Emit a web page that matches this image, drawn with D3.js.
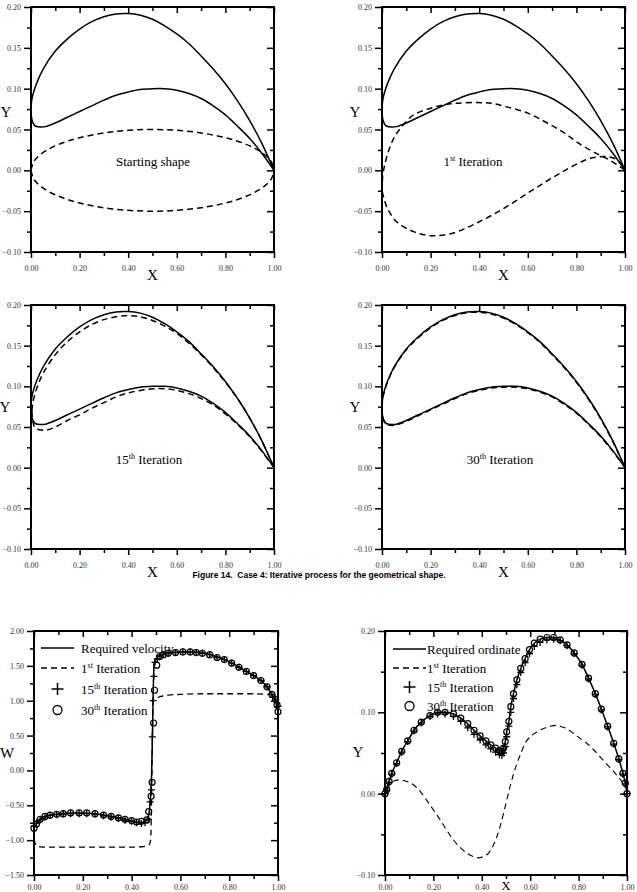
<!doctype html>
<html>
<head>
<meta charset="utf-8">
<script src="https://d3js.org/d3.v7.min.js"></script>
<style>
  body { margin: 0; background: #fff; }
  svg text { font-family: "Liberation Serif", "Times New Roman", serif; }
</style>
</head>
<body>
<svg id="fig" width="637" height="892"></svg>
<script>
// ---- required shape (solid) ----
const reqUpX = [0, 0.003, 0.01, 0.025, 0.05, 0.1, 0.15, 0.2, 0.25, 0.3, 0.35, 0.4, 0.45, 0.5, 0.55, 0.6, 0.65, 0.7, 0.75, 0.8, 0.85, 0.9, 0.95, 1.0];
const reqUpY = [0.075, 0.086, 0.095, 0.108, 0.124, 0.146, 0.161, 0.173, 0.182, 0.188, 0.1915, 0.192, 0.19, 0.185, 0.177, 0.167, 0.155, 0.14, 0.124, 0.106, 0.085, 0.061, 0.033, 0];
const reqLoX = [0, 0.003, 0.01, 0.02, 0.04, 0.06, 0.1, 0.15, 0.2, 0.25, 0.3, 0.35, 0.4, 0.45, 0.5, 0.55, 0.6, 0.65, 0.7, 0.75, 0.8, 0.85, 0.9, 0.95, 1.0];
const reqLoY = [0.075, 0.063, 0.057, 0.054, 0.053, 0.0535, 0.058, 0.065, 0.072, 0.079, 0.086, 0.092, 0.096, 0.099, 0.1, 0.1, 0.098, 0.094, 0.088, 0.079, 0.068, 0.054, 0.039, 0.021, 0];

// ---- starting shape (dashed ellipse) ----
const startX = [0, 0.01, 0.03, 0.06, 0.1, 0.15, 0.2, 0.3, 0.4, 0.5, 0.6, 0.7, 0.8, 0.85, 0.9, 0.94, 0.97, 0.99, 1.0];
const startUpY = [0, 0.0100, 0.0171, 0.0237, 0.030, 0.0357, 0.040, 0.0458, 0.049, 0.05, 0.049, 0.0458, 0.040, 0.0357, 0.030, 0.0237, 0.0171, 0.0100, 0];
const startLoY = [0, -0.0100, -0.0171, -0.0237, -0.030, -0.0357, -0.040, -0.0458, -0.049, -0.05, -0.049, -0.0458, -0.040, -0.0357, -0.030, -0.0237, -0.0171, -0.0100, 0];

// ---- 1st iteration shape ----
const it1UpX = [0.001, 0.003, 0.01, 0.02, 0.04, 0.06, 0.1, 0.13, 0.2, 0.25, 0.3, 0.39, 0.45, 0.51, 0.6, 0.68, 0.75, 0.81, 0.88, 0.94, 1.0];
const it1UpY = [-0.026, -0.006, 0.005, 0.017, 0.034, 0.045, 0.06, 0.068, 0.076, 0.08, 0.082, 0.083, 0.082, 0.078, 0.07, 0.058, 0.046, 0.033, 0.021, 0.012, 0];
const it1LoX = [0.001, 0.02, 0.06, 0.13, 0.2, 0.29, 0.4, 0.51, 0.62, 0.73, 0.84, 0.88, 0.92, 0.96, 0.98, 1.0];
const it1LoY = [-0.026, -0.045, -0.063, -0.075, -0.08, -0.077, -0.063, -0.045, -0.024, -0.004, 0.013, 0.016, 0.017, 0.014, 0.009, 0];

// ---- 15th iteration shape ----
const it15UpX = [0.004, 0.007, 0.014, 0.028, 0.05, 0.1, 0.15, 0.2, 0.25, 0.3, 0.35, 0.4, 0.45, 0.5, 0.55, 0.6, 0.65, 0.7, 0.75, 0.8, 0.85, 0.9, 0.95, 1.0];
const it15UpY = [0.07, 0.079, 0.088, 0.101, 0.116, 0.139, 0.155, 0.167, 0.176, 0.182, 0.1855, 0.187, 0.1855, 0.181, 0.174, 0.165, 0.153, 0.139, 0.123, 0.105, 0.085, 0.061, 0.033, 0];
const it15LoX = [0.004, 0.007, 0.015, 0.03, 0.05, 0.07, 0.1, 0.15, 0.2, 0.25, 0.3, 0.35, 0.4, 0.45, 0.5, 0.55, 0.6, 0.65, 0.7, 0.75, 0.8, 0.85, 0.9, 0.95, 1.0];
const it15LoY = [0.07, 0.058, 0.05, 0.047, 0.046, 0.0465, 0.05, 0.058, 0.065, 0.073, 0.08, 0.087, 0.092, 0.095, 0.097, 0.097, 0.095, 0.091, 0.085, 0.077, 0.066, 0.053, 0.038, 0.02, 0];

// ---- 30th iteration shape ----
const it30UpX = [0, 0.003, 0.01, 0.025, 0.05, 0.1, 0.15, 0.2, 0.25, 0.3, 0.35, 0.4, 0.45, 0.5, 0.55, 0.6, 0.65, 0.7, 0.75, 0.8, 0.85, 0.9, 0.95, 1.0];
const it30UpY = [0.074, 0.085, 0.094, 0.107, 0.123, 0.145, 0.160, 0.172, 0.181, 0.187, 0.1905, 0.191, 0.189, 0.184, 0.176, 0.166, 0.154, 0.139, 0.123, 0.105, 0.084, 0.060, 0.032, 0];
const it30LoX = [0, 0.003, 0.01, 0.02, 0.04, 0.06, 0.1, 0.15, 0.2, 0.25, 0.3, 0.35, 0.4, 0.45, 0.5, 0.55, 0.6, 0.65, 0.7, 0.75, 0.8, 0.85, 0.9, 0.95, 1.0];
const it30LoY = [0.074, 0.062, 0.056, 0.053, 0.052, 0.0525, 0.057, 0.064, 0.071, 0.078, 0.085, 0.091, 0.095, 0.098, 0.099, 0.099, 0.097, 0.093, 0.087, 0.078, 0.067, 0.053, 0.038, 0.020, 0];

// ---- velocity distribution W ----
const reqVelS = [0, 0.01, 0.025, 0.045, 0.07, 0.1, 0.15, 0.2, 0.25, 0.3, 0.35, 0.4, 0.43, 0.45, 0.465, 0.472, 0.478, 0.482, 0.486, 0.489, 0.492, 0.497, 0.505, 0.52, 0.55, 0.6, 0.65, 0.7, 0.75, 0.8, 0.85, 0.9, 0.93, 0.955, 0.975, 0.99, 1.0];
const reqVelW = [-0.83, -0.77, -0.7, -0.66, -0.64, -0.625, -0.61, -0.61, -0.62, -0.645, -0.68, -0.72, -0.745, -0.745, -0.7, -0.6, -0.35, -0.05, 0.6, 1.2, 1.5, 1.58, 1.62, 1.66, 1.685, 1.7, 1.7, 1.68, 1.63, 1.56, 1.46, 1.36, 1.29, 1.2, 1.09, 1.0, 0.84];
const vel1S = [0, 0.005, 0.018, 0.05, 0.1, 0.2, 0.3, 0.4, 0.44, 0.46, 0.472, 0.478, 0.482, 0.485, 0.488, 0.495, 0.51, 0.53, 0.56, 0.6, 0.7, 0.8, 0.9, 0.96, 0.98, 0.99, 1.0];
const vel1W = [-0.98, -1.05, -1.09, -1.1, -1.1, -1.1, -1.1, -1.1, -1.095, -1.085, -1.065, -1.0, -0.4, 0.4, 0.98, 1.02, 1.05, 1.07, 1.085, 1.09, 1.1, 1.1, 1.1, 1.09, 1.07, 1.0, 0.84];
const vel15S = [0, 0.01, 0.025, 0.045, 0.066, 0.093, 0.12, 0.15, 0.185, 0.216, 0.25, 0.285, 0.316, 0.346, 0.373, 0.4, 0.42, 0.44, 0.455, 0.468, 0.476, 0.481, 0.485, 0.488, 0.491, 0.496, 0.505, 0.516, 0.53, 0.55, 0.58, 0.61, 0.64, 0.665, 0.69, 0.72, 0.75, 0.78, 0.81, 0.84, 0.87, 0.90, 0.93, 0.955, 0.975, 0.99, 1.0];
const vel15W = [-0.8, -0.76, -0.71, -0.67, -0.645, -0.635, -0.625, -0.62, -0.62, -0.62, -0.63, -0.65, -0.67, -0.69, -0.715, -0.73, -0.75, -0.76, -0.75, -0.7, -0.45, -0.28, 0.48, 1.0, 1.35, 1.55, 1.6, 1.64, 1.66, 1.68, 1.69, 1.70, 1.70, 1.69, 1.68, 1.66, 1.62, 1.59, 1.54, 1.48, 1.42, 1.36, 1.29, 1.2, 1.09, 1.02, 0.92];
const vel30S = [0, 0.01, 0.025, 0.045, 0.066, 0.093, 0.12, 0.15, 0.185, 0.216, 0.25, 0.285, 0.316, 0.346, 0.373, 0.4, 0.42, 0.44, 0.462, 0.47, 0.48, 0.484, 0.49, 0.494, 0.503, 0.514, 0.53, 0.55, 0.58, 0.61, 0.64, 0.665, 0.69, 0.72, 0.75, 0.78, 0.81, 0.84, 0.87, 0.90, 0.93, 0.955, 0.975, 0.99, 0.996, 1.0];
const vel30W = [-0.83, -0.77, -0.7, -0.66, -0.64, -0.63, -0.62, -0.61, -0.61, -0.61, -0.62, -0.64, -0.66, -0.68, -0.70, -0.72, -0.74, -0.73, -0.71, -0.59, -0.37, -0.17, 0.68, 1.15, 1.51, 1.63, 1.66, 1.68, 1.69, 1.70, 1.70, 1.69, 1.68, 1.66, 1.62, 1.59, 1.54, 1.48, 1.42, 1.36, 1.29, 1.2, 1.09, 1.02, 0.94, 0.84];

// ---- ordinate distribution Y ----
const reqOrdS = [0, 0.007, 0.017, 0.028, 0.048, 0.069, 0.094, 0.12, 0.15, 0.186, 0.217, 0.248, 0.283, 0.313, 0.342, 0.368, 0.393, 0.417, 0.437, 0.457, 0.473, 0.483, 0.49, 0.497, 0.503, 0.512, 0.52, 0.531, 0.545, 0.561, 0.579, 0.597, 0.617, 0.641, 0.669, 0.697, 0.724, 0.752, 0.782, 0.814, 0.841, 0.869, 0.894, 0.92, 0.945, 0.966, 0.983, 0.993, 1.0];
const reqOrdY = [0, 0.005, 0.015, 0.025, 0.038, 0.052, 0.065, 0.078, 0.088, 0.096, 0.1, 0.1, 0.098, 0.093, 0.086, 0.078, 0.071, 0.065, 0.06, 0.056, 0.053, 0.052, 0.056, 0.064, 0.076, 0.089, 0.107, 0.123, 0.14, 0.154, 0.166, 0.177, 0.185, 0.19, 0.192, 0.192, 0.189, 0.183, 0.173, 0.159, 0.142, 0.123, 0.104, 0.083, 0.062, 0.043, 0.025, 0.013, 0];
const ord1S = [0.01, 0.02, 0.04, 0.062, 0.09, 0.117, 0.145, 0.172, 0.2, 0.228, 0.255, 0.283, 0.31, 0.338, 0.362, 0.386, 0.408, 0.428, 0.445, 0.462, 0.476, 0.49, 0.503, 0.517, 0.531, 0.545, 0.562, 0.579, 0.6, 0.628, 0.655, 0.683, 0.71, 0.724, 0.75, 0.779, 0.806, 0.834, 0.862, 0.89, 0.917, 0.945, 0.965, 0.979, 0.99];
const ord1Y = [0.005, 0.011, 0.016, 0.017, 0.015, 0.011, 0.003, -0.008, -0.02, -0.032, -0.045, -0.057, -0.066, -0.073, -0.077, -0.079, -0.077, -0.073, -0.065, -0.053, -0.04, -0.024, -0.008, 0.009, 0.024, 0.037, 0.05, 0.062, 0.07, 0.076, 0.08, 0.083, 0.084, 0.083, 0.08, 0.074, 0.068, 0.062, 0.054, 0.045, 0.036, 0.027, 0.02, 0.015, 0.008];
const ord15S = [0, 0.007, 0.017, 0.028, 0.048, 0.069, 0.094, 0.12, 0.15, 0.186, 0.217, 0.248, 0.283, 0.313, 0.342, 0.368, 0.393, 0.417, 0.437, 0.457, 0.473, 0.483, 0.49, 0.497, 0.503, 0.512, 0.52, 0.531, 0.545, 0.561, 0.579, 0.597, 0.617, 0.641, 0.669, 0.697, 0.724, 0.752, 0.782, 0.814, 0.841, 0.869, 0.894, 0.92, 0.945, 0.966, 0.983, 0.993, 1.0];
const ord15Y = [0, 0.004, 0.014, 0.024, 0.037, 0.051, 0.064, 0.077, 0.087, 0.095, 0.098, 0.098, 0.095, 0.089, 0.081, 0.073, 0.066, 0.06, 0.055, 0.051, 0.048, 0.047, 0.05, 0.058, 0.07, 0.083, 0.1, 0.117, 0.134, 0.149, 0.161, 0.172, 0.181, 0.186, 0.189, 0.19, 0.188, 0.182, 0.172, 0.158, 0.141, 0.122, 0.103, 0.082, 0.061, 0.042, 0.024, 0.012, 0];
const ord30S = [0, 0.007, 0.017, 0.028, 0.048, 0.069, 0.094, 0.12, 0.15, 0.186, 0.217, 0.248, 0.283, 0.313, 0.342, 0.368, 0.393, 0.417, 0.437, 0.457, 0.473, 0.483, 0.49, 0.497, 0.503, 0.512, 0.52, 0.531, 0.545, 0.561, 0.579, 0.597, 0.617, 0.641, 0.669, 0.697, 0.724, 0.752, 0.782, 0.814, 0.841, 0.869, 0.894, 0.92, 0.945, 0.966, 0.983, 0.993, 1.0];
const ord30Y = [0, 0.005, 0.015, 0.025, 0.038, 0.052, 0.065, 0.078, 0.088, 0.096, 0.1, 0.1, 0.098, 0.093, 0.086, 0.078, 0.071, 0.065, 0.06, 0.056, 0.053, 0.052, 0.056, 0.064, 0.076, 0.089, 0.107, 0.123, 0.14, 0.154, 0.166, 0.177, 0.185, 0.19, 0.192, 0.192, 0.189, 0.183, 0.173, 0.159, 0.142, 0.123, 0.104, 0.083, 0.062, 0.043, 0.025, 0.013, 0];

// ---- tick labels ----
const xMajor = [0, 0.2, 0.4, 0.6, 0.8, 1.0];
const xMinor = [0.1, 0.3, 0.5, 0.7, 0.9];
const shapeYMajor = [-0.10, -0.05, 0, 0.05, 0.10, 0.15, 0.20];
const shapeYMinor = [-0.075, -0.025, 0.025, 0.075, 0.125, 0.175];
const velYMajor = [-1.5, -1.0, -0.5, 0, 0.5, 1.0, 1.5, 2.0];
const velYMinor = [-1.25, -0.75, -0.25, 0.25, 0.75, 1.25, 1.75];
const ordYMajor = [-0.10, 0, 0.10, 0.20];
const ordYMinor = [-0.05, 0.05, 0.15];

const zip = (xs, ys) => xs.map((x, i) => [x, ys[i]]);
const svg = d3.select("#fig");
const fmt = d3.format(".2f");

// axes frame for one panel
function makePanel(p) {
  const x = d3.scaleLinear().domain([0, 1]).range([p.left, p.right]);
  const y = d3.scaleLinear().domain(p.yDomain).range([p.bottom, p.top]);
  const g = svg.append("g");

  const styleAxis = sel => {
    sel.select(".domain").remove();
    sel.selectAll("line").attr("stroke", "#000").attr("stroke-width", 1.5);
    sel.selectAll("text").attr("font-size", 8).attr("fill", "#333")
      .style("font-family", "'Liberation Serif', serif");
  };

  // left (outward, labelled)
  g.append("g").attr("transform", `translate(${p.left},0)`)
    .call(d3.axisLeft(y).tickValues(p.yMajor).tickSize(7).tickPadding(3).tickFormat(fmt)).call(styleAxis);
  g.append("g").attr("transform", `translate(${p.left},0)`)
    .call(d3.axisLeft(y).tickValues(p.yMinor).tickSize(4).tickFormat("")).call(styleAxis);
  // right (inward)
  g.append("g").attr("transform", `translate(${p.right},0)`)
    .call(d3.axisLeft(y).tickValues(p.yMajor).tickSize(7).tickFormat("")).call(styleAxis);
  g.append("g").attr("transform", `translate(${p.right},0)`)
    .call(d3.axisLeft(y).tickValues(p.yMinor).tickSize(4).tickFormat("")).call(styleAxis);
  // bottom (outward, labelled)
  g.append("g").attr("transform", `translate(0,${p.bottom})`)
    .call(d3.axisBottom(x).tickValues(xMajor).tickSize(6).tickPadding(p.xPad || 7).tickFormat(fmt)).call(styleAxis);
  g.append("g").attr("transform", `translate(0,${p.bottom})`)
    .call(d3.axisBottom(x).tickValues(xMinor).tickSize(4).tickFormat("")).call(styleAxis);
  // top (inward)
  g.append("g").attr("transform", `translate(0,${p.top})`)
    .call(d3.axisBottom(x).tickValues(xMajor).tickSize(6).tickFormat("")).call(styleAxis);
  g.append("g").attr("transform", `translate(0,${p.top})`)
    .call(d3.axisBottom(x).tickValues(xMinor).tickSize(4).tickFormat("")).call(styleAxis);

  g.append("rect")
    .attr("x", p.left).attr("y", p.top)
    .attr("width", p.right - p.left).attr("height", p.bottom - p.top)
    .attr("fill", "none").attr("stroke", "#000").attr("stroke-width", 2);

  if (p.xLabel) {
    g.append("text").attr("x", x(0.5)).attr("y", p.bottom + p.xLabel)
      .attr("text-anchor", "middle").attr("font-size", p.xLabelSize || 15).text("X");
  }
  g.append("text").attr("x", p.yLabelX).attr("y", p.yLabelY)
    .attr("text-anchor", "middle").attr("font-size", 15).text(p.yLabel);

  return { g, x, y };
}

function supLabel(g, x, y, base, sup, rest, size, anchor) {
  const t = g.append("text").attr("x", x).attr("y", y)
    .attr("font-size", size).attr("text-anchor", anchor || "middle");
  t.append("tspan").text(base);
  if (sup) {
    t.append("tspan").attr("font-size", size * 0.62).attr("dy", -size * 0.38).text(sup);
    t.append("tspan").attr("dy", size * 0.38).text(rest);
  }
  return t;
}

function drawLine(P, pts, dashed, curve, width) {
  const line = d3.line().x(d => P.x(d[0])).y(d => P.y(d[1])).curve(curve);
  P.g.append("path").datum(pts)
    .attr("d", line).attr("fill", "none").attr("stroke", "#000")
    .attr("stroke-width", width || 1.5)
    .attr("stroke-dasharray", dashed ? "6,4" : null);
}

const shapeCurve = d3.curveCatmullRom.alpha(0.5);

// ---------- shape panels ----------
const shapePanels = [
  { left: 31, right: 274, top: 7, bottom: 252, yLabelX: 6, yLabelY: 117,
    up: [startX, startUpY], lo: [startX, startLoY], label: ["Starting shape", "", ""], lx: 153, ly: 166 },
  { left: 382, right: 625, top: 7, bottom: 252, yLabelX: 355, yLabelY: 117,
    up: [it1UpX, it1UpY], lo: [it1LoX, it1LoY], label: ["1", "st", " Iteration"], lx: 473, ly: 166 },
  { left: 31, right: 274, top: 305, bottom: 549, yLabelX: 5, yLabelY: 412,
    up: [it15UpX, it15UpY], lo: [it15LoX, it15LoY], label: ["15", "th", " Iteration"], lx: 149, ly: 464 },
  { left: 382, right: 625, top: 305, bottom: 549, yLabelX: 355, yLabelY: 412,
    up: [it30UpX, it30UpY], lo: [it30LoX, it30LoY], label: ["30", "th", " Iteration"], lx: 500, ly: 464 }
];

shapePanels.forEach(sp => {
  const P = makePanel(Object.assign({ yDomain: [-0.1, 0.2], yMajor: shapeYMajor, yMinor: shapeYMinor,
    yLabel: "Y", xLabel: 28 }, sp));
  drawLine(P, zip(reqUpX, reqUpY), false, shapeCurve);
  drawLine(P, zip(reqLoX, reqLoY), false, shapeCurve);
  drawLine(P, zip(sp.up[0], sp.up[1]), true, shapeCurve);
  drawLine(P, zip(sp.lo[0], sp.lo[1]), true, shapeCurve);
  supLabel(P.g, sp.lx, sp.ly, sp.label[0], sp.label[1], sp.label[2], 13);
});

// caption
svg.append("text").attr("x", 319).attr("y", 578).attr("text-anchor", "middle")
  .style("font-family", "'Liberation Sans', Arial, sans-serif")
  .attr("font-size", 8.5).attr("font-weight", "bold")
  .attr("xml:space", "preserve")
  .text("Figure 14.  Case 4: Iterative process for the geometrical shape.");

// markers
function drawMarkers(P, pts, kind) {
  const g = P.g.append("g");
  if (kind === "circle") {
    g.selectAll("circle").data(pts).join("circle")
      .attr("cx", d => P.x(d[0])).attr("cy", d => P.y(d[1])).attr("r", 3)
      .attr("fill", "none").attr("stroke", "#000").attr("stroke-width", 1.2);
  } else {
    g.selectAll("path").data(pts).join("path")
      .attr("d", d => `M${P.x(d[0]) - 3.5},${P.y(d[1])}h7M${P.x(d[0])},${P.y(d[1]) - 3.5}v7`)
      .attr("stroke", "#000").attr("stroke-width", 1.3);
  }
}

function legend(P, lx, tx, ys, first) {
  const g = P.g.append("g");
  g.append("line").attr("x1", lx[0]).attr("x2", lx[1]).attr("y1", ys[0]).attr("y2", ys[0])
    .attr("stroke", "#000").attr("stroke-width", 1.5);
  g.append("line").attr("x1", lx[0]).attr("x2", lx[1]).attr("y1", ys[1]).attr("y2", ys[1])
    .attr("stroke", "#000").attr("stroke-width", 1.3).attr("stroke-dasharray", "6,4");
  const mx = (lx[0] + lx[1]) / 2;
  g.append("path").attr("d", `M${mx - 6},${ys[2]}h12M${mx},${ys[2] - 6}v12`)
    .attr("stroke", "#000").attr("stroke-width", 1.5);
  g.append("circle").attr("cx", mx).attr("cy", ys[3]).attr("r", 4.5)
    .attr("fill", "none").attr("stroke", "#000").attr("stroke-width", 1.3);
  supLabel(g, tx, ys[0] + 4.5, first, "", "", 13, "start");
  supLabel(g, tx, ys[1] + 4.5, "1", "st", " Iteration", 13, "start");
  supLabel(g, tx, ys[2] + 4.5, "15", "th", " Iteration", 13, "start");
  supLabel(g, tx, ys[3] + 4.5, "30", "th", " Iteration", 13, "start");
}

// ---------- velocity panel ----------
const PV = makePanel({ left: 34, right: 278, top: 631, bottom: 875, yDomain: [-1.5, 2.0],
  yMajor: velYMajor, yMinor: velYMinor, yLabel: "W", yLabelX: 7, yLabelY: 758, xLabel: 0, xPad: 3 });
drawLine(PV, zip(reqVelS, reqVelW), false, d3.curveMonotoneX);
drawLine(PV, zip(vel1S, vel1W), true, d3.curveMonotoneX, 1.3);
drawMarkers(PV, zip(vel15S, vel15W), "plus");
drawMarkers(PV, zip(vel30S, vel30W), "circle");
legend(PV, [41, 74], 81, [648, 668, 689, 710], "Required velocity");

// ---------- ordinate panel ----------
const PO = makePanel({ left: 385, right: 627, top: 631, bottom: 875, yDomain: [-0.1, 0.2],
  yMajor: ordYMajor, yMinor: ordYMinor, yLabel: "Y", yLabelX: 358, yLabelY: 757,
  xLabel: 15, xLabelSize: 13, xPad: 3 });
drawLine(PO, zip(reqOrdS, reqOrdY), false, d3.curveMonotoneX);
drawLine(PO, zip(ord1S, ord1Y), true, d3.curveMonotoneX, 1.1);
drawMarkers(PO, zip(ord15S, ord15Y), "plus");
drawMarkers(PO, zip(ord30S, ord30Y), "circle");
legend(PO, [393, 426], 427, [649, 668, 687, 706], "Required ordinate");
</script>
</body>
</html>
